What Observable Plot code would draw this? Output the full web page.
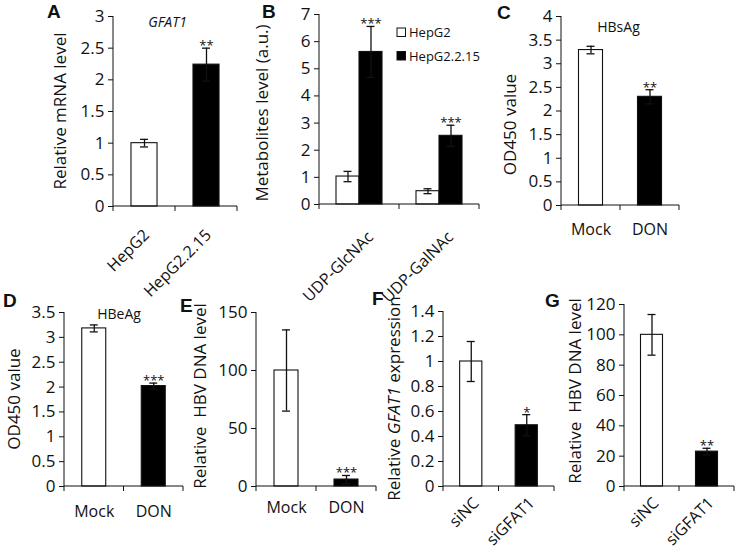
<!DOCTYPE html>
<html><head><meta charset="utf-8">
<script src="https://cdn.jsdelivr.net/npm/d3@7"></script>
<script src="https://cdn.jsdelivr.net/npm/@observablehq/plot@0.6"></script>
<style>
body{margin:0;background:#fff;}
#fig{position:relative;width:737px;height:555px;overflow:hidden;background:#fff;}
#fig svg.panel{position:absolute;}
</style></head><body><div id="fig"></div>
<script>
// ---------- data ----------
const aCategories = ["HepG2", "HepG2.2.15"];
const aValues = [1.0, 2.24];
const aErrors = [0.06, 0.26];
const aStars = ["", "**"];
const aTicks = [0, 0.5, 1, 1.5, 2, 2.5, 3];

const bGroups = ["UDP-GlcNAc", "UDP-GalNAc"];
const bSeries = ["HepG2", "HepG2.2.15"];
const bHepG2 = [1.03, 0.49];
const bHepG2Err = [0.19, 0.09];
const bHepG2215 = [5.62, 2.53];
const bHepG2215Err = [0.94, 0.39];
const bStars = ["***", "***"];
const bTicks = [0, 1, 2, 3, 4, 5, 6, 7];

const cCategories = ["Mock", "DON"];
const cValues = [3.29, 2.30];
const cErrors = [0.08, 0.15];
const cStars = ["", "**"];
const cTicks = [0, 0.5, 1, 1.5, 2, 2.5, 3, 3.5, 4];

const dCategories = ["Mock", "DON"];
const dValues = [3.18, 2.02];
const dErrors = [0.07, 0.06];
const dStars = ["", "***"];
const dTicks = [0, 0.5, 1, 1.5, 2, 2.5, 3, 3.5];

const eCategories = ["Mock", "DON"];
const eValues = [100, 6];
const eErrors = [35, 3.5];
const eStars = ["", "***"];
const eTicks = [0, 50, 100, 150];

const fCategories = ["siNC", "siGFAT1"];
const fValues = [1.0, 0.49];
const fErrors = [0.16, 0.085];
const fStars = ["", "*"];
const fTicks = [0, 0.2, 0.4, 0.6, 0.8, 1, 1.2, 1.4];

const gCategories = ["siNC", "siGFAT1"];
const gValues = [100, 23];
const gErrors = [13.4, 2.2];
const gStars = ["", "**"];
const gTicks = [0, 20, 40, 60, 80, 100, 120];

// ---------- helpers ----------
const ink = "#111";
const FONT = "'Open Sans', sans-serif";
const fig = document.getElementById("fig");
const fmt = d => String(d);

function mount(chart, left, top) {
  chart.classList.add("panel");
  chart.style.left = left + "px";
  chart.style.top = top + "px";
  fig.appendChild(chart);
}

function decor(chart, band, parts, labelDx, labelDy) {
  const svg = d3.select(chart);
  const sx = chart.scale(band), sy = chart.scale("y");
  const gap = sx.step - sx.bandwidth;
  const edges = sx.domain.map(d => sx.apply(d) - gap / 2);
  edges.push(edges[edges.length - 1] + sx.step);
  const y0 = sy.apply(0), yTop = sy.apply(sy.domain[1]);
  const g = svg.append("g").attr("stroke", ink).attr("stroke-width", 1).attr("fill", "none");
  g.append("line").attr("x1", edges[0]).attr("x2", edges[edges.length - 1]).attr("y1", y0).attr("y2", y0);
  g.append("line").attr("x1", edges[0]).attr("x2", edges[0]).attr("y1", y0).attr("y2", yTop);
  for (const x of edges) g.append("line").attr("x1", x).attr("x2", x).attr("y1", y0).attr("y2", y0 + 5);
  const t = svg.append("text")
    .attr("transform", `translate(${edges[0] + labelDx},${(y0 + yTop) / 2 + labelDy}) rotate(-90)`)
    .attr("text-anchor", "middle").attr("dy", "0.35em")
    .attr("font-family", FONT).attr("font-size", 17).attr("fill", ink)
    .style("white-space", "pre");
  for (const p of parts) t.append("tspan").text(p.text).attr("font-style", p.italic ? "italic" : null);
  return {edges, y0, yTop};
}

function simplePanel(cfg) {
  const rows = cfg.categories.map((c, i) => ({cat: c, value: cfg.values[i], err: cfg.errors[i], star: cfg.stars[i]}));
  const step = (cfg.w - cfg.ml - cfg.mr) / cfg.categories.length;
  const capInset = (step * (1 - cfg.pad) - 8) / 2;
  const marks = [
    Plot.barY(rows, {x: "cat", y: "value", fill: "cat", stroke: ink, strokeWidth: 1.1}),
    Plot.ruleX(rows, {x: "cat", y1: d => d.value - d.err, y2: d => d.value + d.err, stroke: ink, strokeWidth: 1.3}),
    Plot.tickY(rows, {x: "cat", y: d => d.value + d.err, stroke: ink, strokeWidth: 1.3, insetLeft: capInset, insetRight: capInset}),
    Plot.tickY(rows, {x: "cat", y: d => d.value - d.err, stroke: ink, strokeWidth: 1.3, insetLeft: capInset, insetRight: capInset}),
    Plot.text(rows.filter(d => d.star), {x: "cat", y: d => d.value + d.err, text: "star", lineAnchor: "bottom", dy: 2, fontSize: 13, fill: ink}),
    Plot.axisY({ticks: cfg.ticks, tickFormat: fmt, tickSize: 5, tickPadding: 4, label: null, fontSize: 17, stroke: ink, fill: ink}),
    Plot.axisX({tickSize: 0, tickPadding: cfg.xPad, tickRotate: cfg.rotate, dx: cfg.xDx || 0, label: null, fontSize: 16, fill: ink})
  ];
  if (cfg.title) marks.push(Plot.text([cfg.title], {frameAnchor: "top", text: d => d, dx: cfg.titleDx, dy: cfg.titleDy, lineAnchor: "bottom", fontSize: 14, fontStyle: cfg.titleItalic ? "italic" : "normal", fill: ink}));
  const chart = Plot.plot({
    width: cfg.w, height: cfg.h,
    marginLeft: cfg.ml, marginRight: cfg.mr, marginTop: cfg.mt, marginBottom: cfg.mb,
    style: {fontFamily: FONT, fontSize: "16px", background: "transparent", color: ink},
    x: {domain: cfg.categories, paddingInner: cfg.pad, paddingOuter: cfg.pad / 2, round: false},
    y: {domain: [0, cfg.ticks[cfg.ticks.length - 1]]},
    color: {domain: cfg.categories, range: ["white", "black"]},
    marks
  });
  decor(chart, "x", cfg.label, cfg.labelDx, cfg.labelDy || 0);
  mount(chart, cfg.left, cfg.top);
  return chart;
}

// ---------- A ----------
simplePanel({categories: aCategories, values: aValues, errors: aErrors, stars: aStars, ticks: aTicks,
  w: 250, h: 320, ml: 113, mr: 13, mt: 16, mb: 114, pad: 0.58, left: 0, top: 0,
  rotate: -45, xPad: 26, xDx: 2, title: "GFAT1", titleItalic: true, titleDx: -8, titleDy: 10,
  label: [{text: "Relative mRNA level"}], labelDx: -53});

// ---------- B ----------
(function () {
  const rows = [];
  bGroups.forEach((g, i) => {
    rows.push({group: g, series: bSeries[0], value: bHepG2[i], err: bHepG2Err[i], star: ""});
    rows.push({group: g, series: bSeries[1], value: bHepG2215[i], err: bHepG2215Err[i], star: bStars[i]});
  });
  const W = 250, H = 320, ML = 79, MR = 11, MT = 14, MB = 116, pad = 0.425;
  const step = (W - ML - MR) / bGroups.length;
  const shift = step * pad / 2;
  const capInset = (step * (1 - pad) / bSeries.length - 8) / 2;
  const chart = Plot.plot({
    width: W, height: H, marginLeft: ML, marginRight: MR, marginTop: MT, marginBottom: MB,
    style: {fontFamily: FONT, fontSize: "16px", background: "transparent", color: ink},
    fx: {domain: bGroups, paddingInner: pad, paddingOuter: pad / 2, round: false, label: null},
    x: {domain: bSeries, padding: 0, round: false, axis: null},
    y: {domain: [0, bTicks[bTicks.length - 1]]},
    color: {domain: bSeries, range: ["white", "black"]},
    marks: [
      Plot.barY(rows, {fx: "group", x: "series", y: "value", fill: "series", stroke: ink, strokeWidth: 1.1}),
      Plot.ruleX(rows, {fx: "group", x: "series", y1: d => d.value - d.err, y2: d => d.value + d.err, stroke: ink, strokeWidth: 1.3}),
      Plot.tickY(rows, {fx: "group", x: "series", y: d => d.value + d.err, stroke: ink, strokeWidth: 1.3, insetLeft: capInset, insetRight: capInset}),
      Plot.tickY(rows, {fx: "group", x: "series", y: d => d.value - d.err, stroke: ink, strokeWidth: 1.3, insetLeft: capInset, insetRight: capInset}),
      Plot.text(rows.filter(d => d.star), {fx: "group", x: "series", y: d => d.value + d.err, text: "star", lineAnchor: "bottom", dy: 2, fontSize: 13, fill: ink}),
      Plot.axisY({ticks: bTicks, tickFormat: fmt, tickSize: 5, tickPadding: 4, label: null, dx: -shift, fontSize: 17, stroke: ink, fill: ink}),
      Plot.axisFx({anchor: "bottom", tickSize: 0, tickPadding: 30, tickRotate: -45, dx: 11, label: null, fontSize: 16, fill: ink})
    ]
  });
  const {edges, yTop} = decor(chart, "fx", [{text: "Metabolites level (a.u.)"}], -57, 4);
  const svg = d3.select(chart);
  const lg = svg.append("g").attr("font-family", FONT).attr("font-size", 13).attr("fill", ink).attr("text-anchor", "start");
  bSeries.forEach((s, i) => {
    const y = yTop + 14 + i * 23.5;
    lg.append("rect").attr("x", edges[1] - 2).attr("y", y).attr("width", 8.5).attr("height", 8.5)
      .attr("fill", i === 0 ? "white" : "black").attr("stroke", ink).attr("stroke-width", 1);
    lg.append("text").attr("x", edges[1] + 10).attr("y", y + 9).attr("text-anchor", "start").text(s);
  });
  mount(chart, 240, 0);
})();

// ---------- C ----------
simplePanel({categories: cCategories, values: cValues, errors: cErrors, stars: cStars, ticks: cTicks,
  w: 247, h: 320, ml: 71, mr: 58, mt: 16, mb: 115, pad: 0.593, left: 490, top: 0,
  rotate: 0, xPad: 18, title: "HBsAg", titleDx: -2, titleDy: 15,
  label: [{text: "OD450 value"}], labelDx: -51, labelDy: 14});

// ---------- D ----------
simplePanel({categories: dCategories, values: dValues, errors: dErrors, stars: dStars, ticks: dTicks,
  w: 190, h: 273, ml: 64, mr: 7, mt: 30, mb: 69, pad: 0.597, left: 0, top: 282,
  rotate: 0, xPad: 19, title: "HBeAg", titleDx: -5, titleDy: 6,
  label: [{text: "OD450 value"}], labelDx: -50});

// ---------- E ----------
simplePanel({categories: eCategories, values: eValues, errors: eErrors, stars: eStars, ticks: eTicks,
  w: 200, h: 273, ml: 76, mr: 4, mt: 30, mb: 69, pad: 0.6, left: 180, top: 282,
  rotate: 0, xPad: 15,
  label: [{text: "Relative  HBV DNA level"}], labelDx: -56, labelDy: -3});

// ---------- F ----------
simplePanel({categories: fCategories, values: fValues, errors: fErrors, stars: fStars, ticks: fTicks,
  w: 190, h: 273, ml: 73, mr: 6, mt: 29, mb: 69, pad: 0.6, left: 370, top: 282,
  rotate: -45, xPad: 14, xDx: 5,
  label: [{text: "Relative "}, {text: "GFAT1", italic: true}, {text: " expression"}], labelDx: -49});

// ---------- G ----------
simplePanel({categories: gCategories, values: gValues, errors: gErrors, stars: gStars, ticks: gTicks,
  w: 177, h: 273, ml: 64, mr: 3, mt: 22, mb: 69, pad: 0.6, left: 560, top: 282,
  rotate: -45, xPad: 14, xDx: 4,
  label: [{text: "Relative  HBV DNA level"}], labelDx: -49, labelDy: -4});

// ---------- panel letters ----------
const letters = [["A", 47, 18], ["B", 262, 18], ["C", 497, 19], ["D", 3, 307], ["E", 180, 312], ["F", 372, 305], ["G", 545, 307]];
const ov = d3.select(fig).append("svg").attr("width", 737).attr("height", 555)
  .style("position", "absolute").style("left", "0px").style("top", "0px");
for (const [t, x, y] of letters) ov.append("text").attr("x", x).attr("y", y).text(t)
  .attr("font-family", "'Liberation Sans', Arial, sans-serif").attr("font-weight", "bold").attr("font-size", 19).attr("fill", ink);
</script></body></html>
